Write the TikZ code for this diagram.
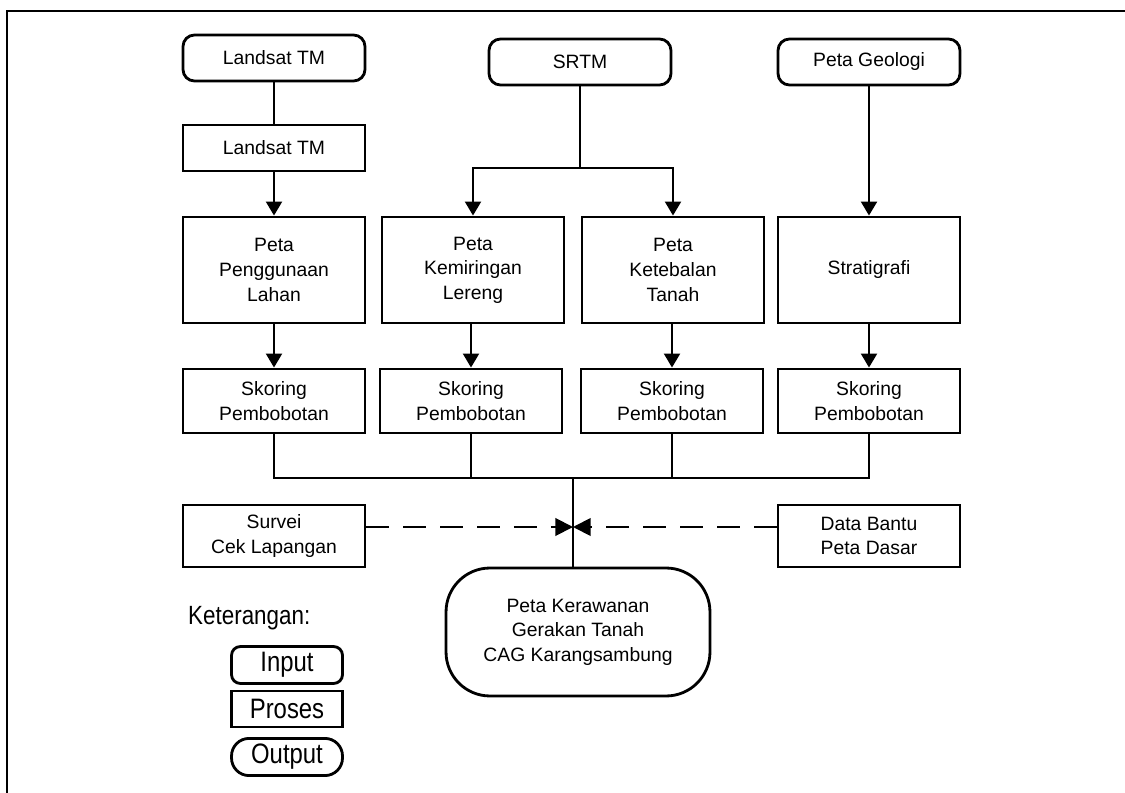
\documentclass[tikz,border=0pt]{standalone}
\usepackage{fontspec}
\setmainfont{Liberation Sans}
\newfontfamily\legendfont[FakeStretch=0.85]{Liberation Sans}
\usetikzlibrary{arrows.meta, positioning}

\begin{document}
\begin{tikzpicture}[x=0.02cm, y=-0.02cm,
    inbox/.style={draw, line width=1.6pt, rounded corners=6.5pt, minimum width=3.64cm, minimum height=0.92cm, align=center, font=\fontsize{11}{14}\selectfont},
    procbox/.style={draw, line width=1.6pt, minimum width=3.64cm, align=center, font=\fontsize{11}{14}\selectfont},
    outbox/.style={draw, line width=1.6pt, rounded corners=25pt, minimum width=5.28cm, minimum height=2.56cm, align=center, font=\fontsize{11}{14}\selectfont},
    keybox/.style={draw, line width=1.6pt, minimum width=2.22cm, minimum height=0.72cm, font=\legendfont\fontsize{16}{18}\selectfont},
    link/.style={line width=1.6pt, -{Triangle[width=9pt,length=8pt]}},
    bus/.style={line width=1.3pt},
    dashlink/.style={line width=1.1pt, dash pattern=on 13pt off 8pt, -{Triangle[width=10pt,length=10pt]}}]
    \useasboundingbox (0,0) rectangle (1125,793);
    % frame
    \draw[line width=1.4pt] (7,793) -- (7,11) -- (1125,11);

    % input
    \node[inbox] (in1) at (274,58) {Landsat TM};
    \node[inbox] (in2) at (580,62) {SRTM};
    \node[inbox] (in3) at (869,62) {Peta Geologi};

    % proses
    \node[procbox, minimum height=0.92cm] (pr1) at (274,148) {Landsat TM};
    \node[procbox, minimum height=2.12cm] (pt1) at (274,270) {Peta\\Penggunaan\\Lahan};
    \node[procbox, minimum height=2.12cm] (pt2) at (473,270) {Peta\\Kemiringan\\Lereng};
    \node[procbox, minimum height=2.12cm] (pt3) at (673,270) {Peta\\Ketebalan\\Tanah};
    \node[procbox, minimum height=2.12cm] (pt4) at (869,270) {Stratigrafi};
    \foreach \i/\x in {1/274, 2/471, 3/672, 4/869}
        \node[procbox, minimum height=1.28cm] (sk\i) at (\x,401) {Skoring\\Pembobotan};
    \node[procbox, minimum height=1.24cm] (surv) at (274,536) {Survei\\Cek Lapangan};
    \node[procbox, minimum height=1.24cm] (data) at (869,536) {Data Bantu\\Peta Dasar};

    % output
    \node[outbox] (out) at (578,632) {Peta Kerawanan\\Gerakan Tanah\\CAG Karangsambung};

    % connectors
    \coordinate (split) at (580,168);
    \coordinate (jn) at (573,478);
    \coordinate (mid) at (573,527);
    \draw[line width=1.6pt] (in1) -- (pr1);
    \draw[link] (pr1) -- (pt1);
    \draw[line width=1.6pt] (in2) -- (split);
    \draw[link] (split) -| (pt2.north);
    \draw[link] (split) -| (pt3.north);
    \draw[link] (in3) -- (pt4);
    \foreach \i in {1,...,4}
        \draw[link] (pt\i.south -| sk\i) -- (sk\i);
    \draw[bus] (sk1.south) |- (sk4.south |- jn) -- (sk4.south);
    \draw[bus] (sk2.south) -- (sk2.south |- jn);
    \draw[bus] (sk3.south) -- (sk3.south |- jn);
    \draw[bus] (jn) -- (jn |- out.north);
    \draw[dashlink] (surv.east |- mid) -- (mid);
    \draw[dashlink] (data.west |- mid) -- (mid);

    % keterangan
    \node[anchor=west, font=\legendfont\fontsize{15}{18}\selectfont] (ket) at (182,618) {Keterangan:};
    \node[keybox, rounded corners=5pt] (kin) at (287,665) {Input};
    \node[keybox] (kpr) at (287,709) {Proses};
    \node[keybox, rounded corners=10pt] (kout) at (287,757) {Output};
\end{tikzpicture}
\end{document}
